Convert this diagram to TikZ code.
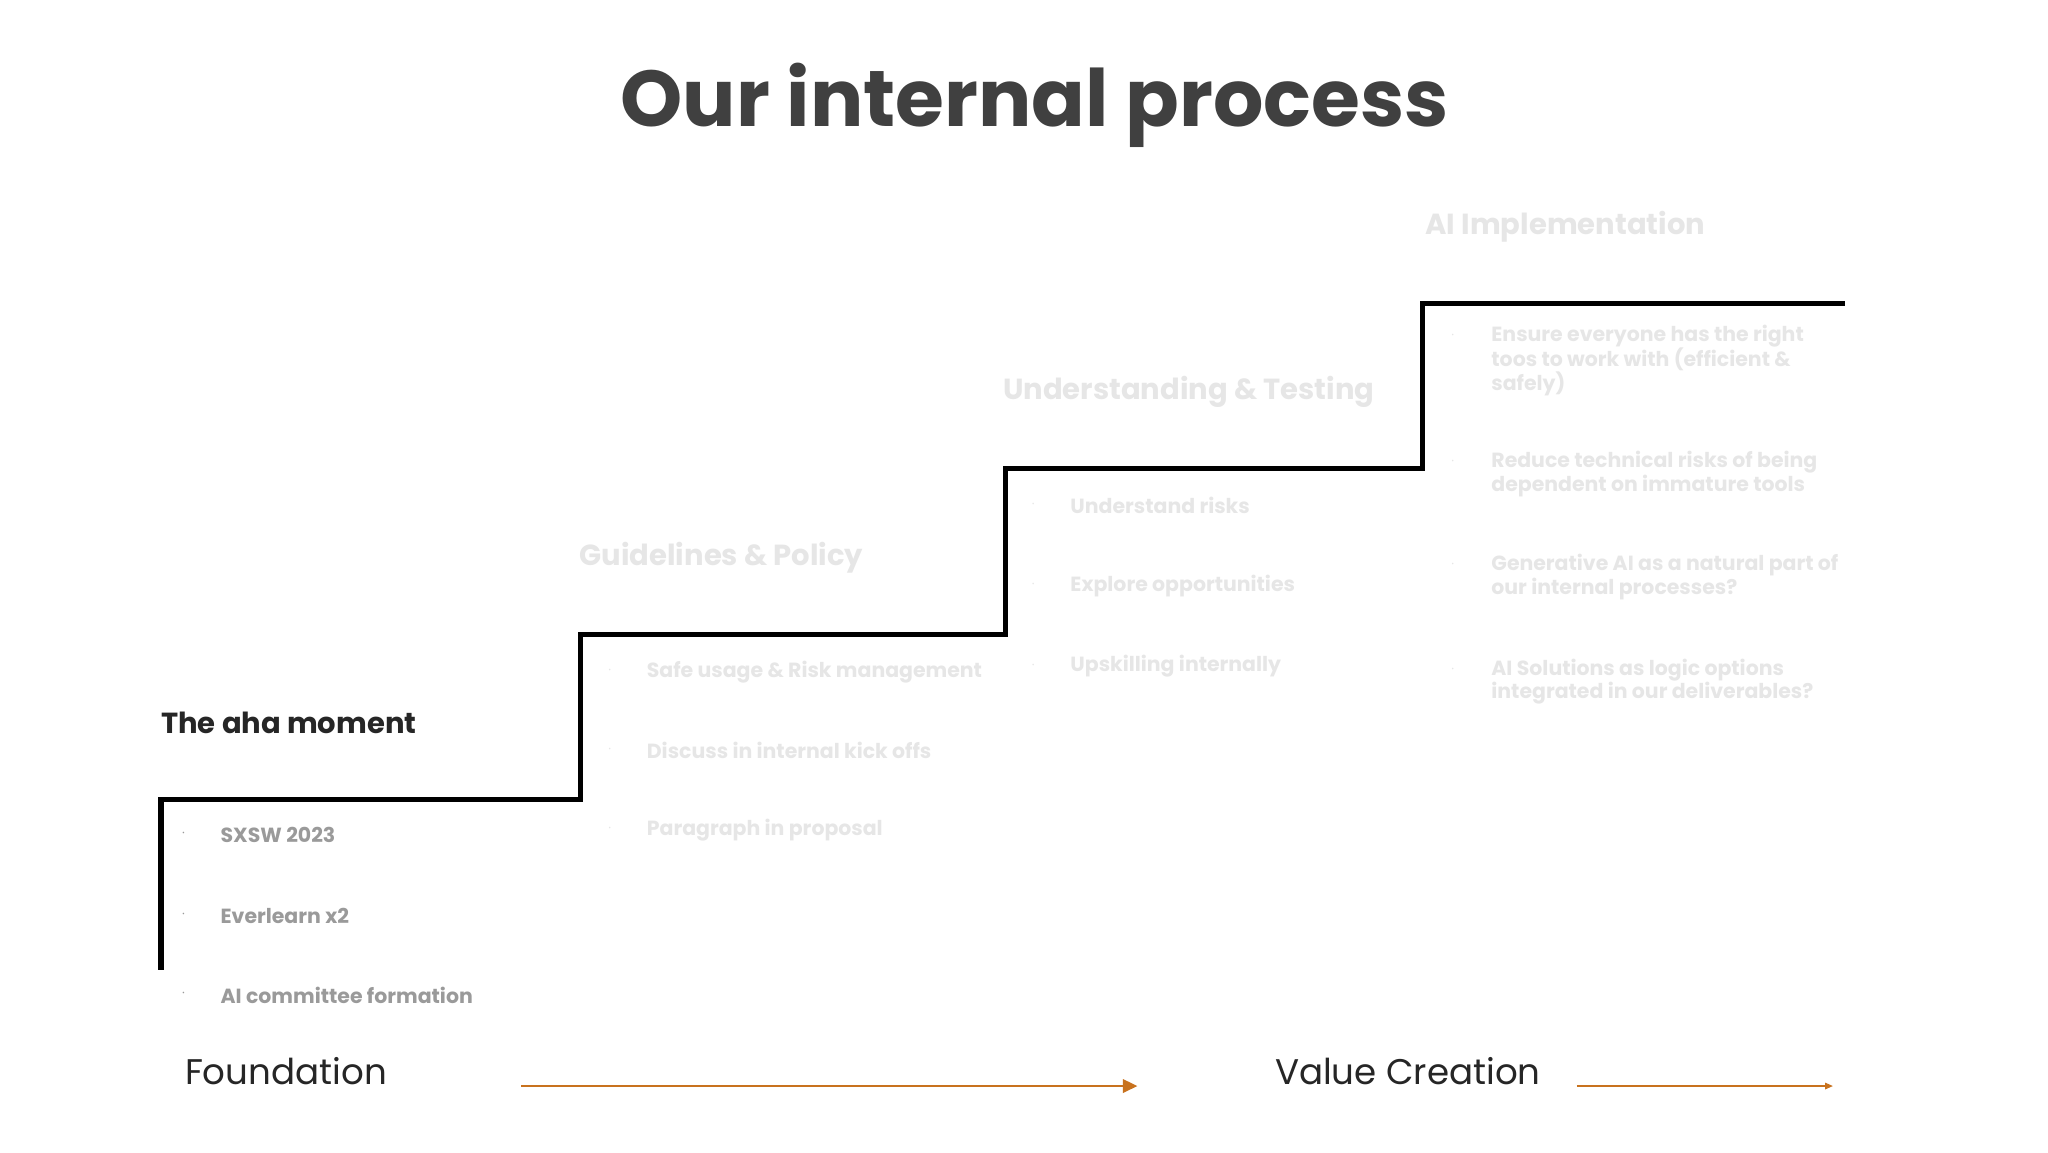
\documentclass[tikz,border=0pt]{standalone}
\usepackage{fontspec}
\setmainfont{Poppins}
\usetikzlibrary{arrows.meta}
\definecolor{ttl}{HTML}{404040}
\definecolor{faint}{HTML}{E6E6E6}
\definecolor{bul}{HTML}{9A9A9A}
\definecolor{org}{HTML}{C8721E}
\begin{document}
\begin{tikzpicture}[x=1pt,y=-1pt,
  head/.style={anchor=west,inner sep=0,font=\fontsize{22}{26}\selectfont\bfseries},
  item/.style={anchor=west,inner sep=0,font=\fontsize{15.5}{18}\selectfont\bfseries,align=left},
  dotc/.style={inner sep=0,font=\fontsize{10}{10}\selectfont}]
\useasboundingbox (0,0) rectangle (1552,873);
\fill[white] (0,0) rectangle (1552,873);
\node[inner sep=0,text=ttl,font=\fontsize{60}{70}\selectfont\bfseries] (title) at (784,80) {Our internal process};
\coordinate (s0) at (122,735);
\draw[line width=4pt] (s0) -- (122,606) -- (440,606) -- (440,481) -- (762,481) -- (762,355) -- (1078,355) -- (1078,230) -- (1398,230);
% stage 1
\node[head,text=black!85] (h1) at (122,548) {The aha moment};
\foreach \y/\t [count=\i] in {633/SXSW 2023,694/Everlearn x2,754/AI committee formation}{
  \node[dotc,text=bul] (d1\i) at (139,\y) {·};
  \node[item,text=bul] (b1\i) at (167,\y) {\t};}
% stage 2
\node[head,text=faint] (h2) at (439,423) {Guidelines \& Policy};
\foreach \y/\t [count=\i] in {509/Safe usage \& Risk management,569/Discuss in internal kick offs,629/Paragraph in proposal}{
  \node[dotc,text=faint] (d2\i) at (462,\y) {·};
  \node[item,text=faint] (b2\i) at (490,\y) {\t};}
% stage 3
\node[head,text=faint] (h3) at (760,297) {Understanding \& Testing};
\foreach \y/\t [count=\i] in {383/Understand risks,444/Explore opportunities,505/Upskilling internally}{
  \node[dotc,text=faint] (d3\i) at (783,\y) {·};
  \node[item,text=faint] (b3\i) at (811,\y) {\t};}
% stage 4
\node[head,text=faint] (h4) at (1080,172) {AI Implementation};
\node[dotc,text=faint] (d41) at (1101,255) {·};
\node[item,text=faint,anchor=north west] (b41) at (1130,246) {Ensure everyone has the right\\toos to work with (efficient \&\\safely)};
\node[dotc,text=faint] (d42) at (1101,351) {·};
\node[item,text=faint,anchor=north west] (b42) at (1130,342) {Reduce technical risks of being\\dependent on immature tools};
\node[dotc,text=faint] (d43) at (1101,429) {·};
\node[item,text=faint,anchor=north west] (b43) at (1130,420) {Generative AI as a natural part of\\our internal processes?};
\node[dotc,text=faint] (d44) at (1101,508) {·};
\node[item,text=faint,anchor=north west] (b44) at (1130,499) {AI Solutions as logic options\\integrated in our deliverables?};
% bottom
\node[anchor=west,inner sep=0,text=black!85,font=\fontsize{27}{30}\selectfont] (f) at (140,812) {Foundation};
\node[anchor=west,inner sep=0,text=black!85,font=\fontsize{27}{30}\selectfont] (v) at (966,812) {Value Creation};
\coordinate (a1s) at (395,823); \coordinate (a1e) at (862,823);
\coordinate (a2s) at (1195,823); \coordinate (a2e) at (1389,823);
\draw[org,line width=2pt,-{Triangle[length=11pt,width=10pt]}] (a1s) -- (a1e);
\draw[org,line width=1pt,-{Triangle[length=6pt,width=5pt]}] (a2s) -- (a2e);
\end{tikzpicture}
\end{document}
